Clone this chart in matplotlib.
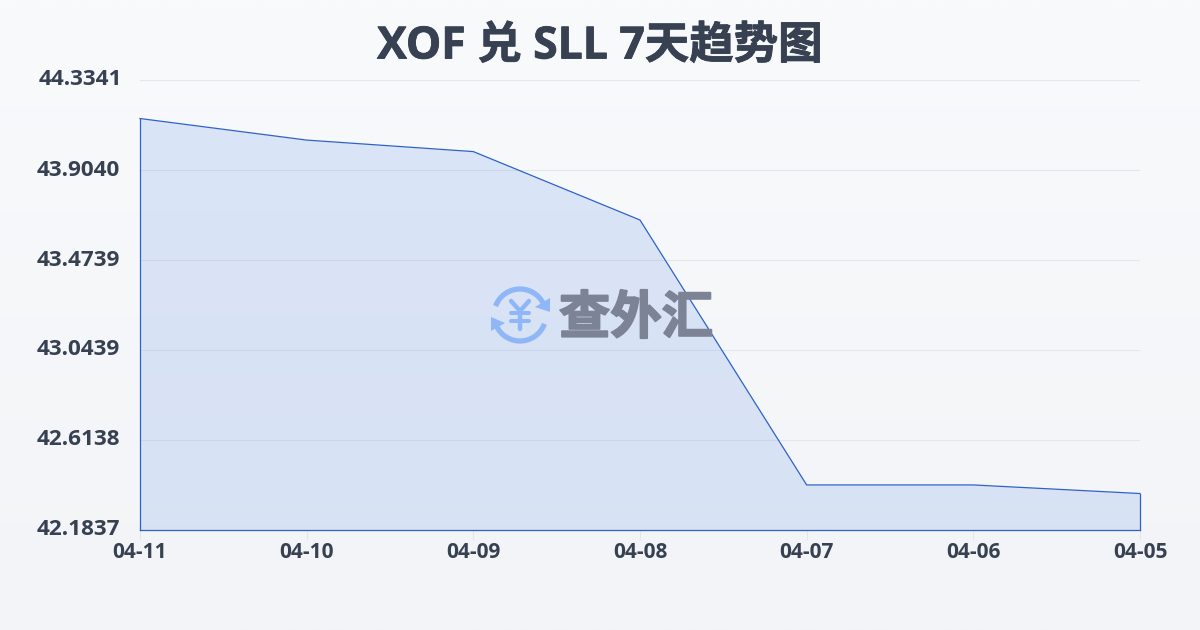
import numpy as np
import matplotlib
matplotlib.use("Agg")
import matplotlib.pyplot as plt
import matplotlib.patheffects as pe
from matplotlib.patches import Arc, Polygon

plt.rcParams['font.family'] = ['Open Sans', 'Noto Sans CJK SC', 'DejaVu Sans']

dates = ['04-11', '04-10', '04-09', '04-08', '04-07', '04-06', '04-05']
rates = [44.150, 44.047, 43.992, 43.665, 42.399, 42.399, 42.358]
y_ticks = [44.3341, 43.9040, 43.4739, 43.0439, 42.6138, 42.1837]
y_labels = ['44.3341', '43.9040', '43.4739', '43.0439', '42.6138', '42.1837']
title = 'XOF 兑 SLL 7天趋势图'
watermark = '查外汇'

W, H = 1200, 630
TEXT = '#374151'
BLUE = '#2f62c9'
LOGO = '#8fb6f6'

fig = plt.figure(figsize=(W / 100, H / 100), dpi=100)

# background gradient
bg = fig.add_axes([0, 0, 1, 1], zorder=0)
bg.axis('off')
grad = np.linspace(0, 1, 256)[:, None, None]
top = np.array([0xf8, 0xfa, 0xfc]) / 255
bottom = np.array([0xf2, 0xf4, 0xf7]) / 255
bg.imshow(top + (bottom - top) * grad, aspect='auto', extent=[0, 1, 0, 1])

# main chart
ax = fig.add_axes([140 / W, 1 - 530 / H, 1000 / W, 450 / H], zorder=1)
ax.patch.set_alpha(0)
x = np.arange(len(dates))
ax.set_xlim(0, len(dates) - 1)
ax.set_ylim(y_ticks[-1], y_ticks[0])
ax.set_yticks(y_ticks)
ax.grid(axis='y', color='#e3e7ed', lw=0.8, zorder=1)
ax.set_axisbelow(True)
ax.fill_between(x, rates, y_ticks[-1], color='#2f6fe0', alpha=0.14, lw=0, zorder=2)
for xs, ys in [(x, rates),
               ([x[0], x[0]], [y_ticks[-1], rates[0]]),
               ([x[-1], x[-1]], [y_ticks[-1], rates[-1]]),
               ([x[0], x[-1]], [y_ticks[-1], y_ticks[-1]])]:
    ax.plot(xs, ys, color=BLUE, lw=0.9, zorder=5, clip_on=False)
for s in ax.spines.values():
    s.set_visible(False)
ax.set_xticks(x)
ax.set_xticklabels(dates, fontsize=15, fontweight='bold', color=TEXT)
ax.tick_params(axis='x', length=7, width=0.8, color='#e3e7ed', pad=2)
ax.tick_params(axis='y', length=0, labelleft=False)
fig.canvas.draw()
for tick, lab in zip(y_ticks, y_labels):
    is_top = tick == y_ticks[0]
    py = H - ax.transData.transform((0, tick))[1]
    fig.text((122 if is_top else 120) / W, 1 - py / H, lab, ha='right', va='center',
             fontsize=16.2, fontweight='bold', color=TEXT)

fig.text(600 / W, 1 - 47 / H, title, ha='center', va='center',
         fontsize=32, fontweight='bold', color=TEXT,
         path_effects=[pe.withStroke(linewidth=0.6, foreground=TEXT)])

# watermark in pixel coordinates
wm = fig.add_axes([0, 0, 1, 1], zorder=2)
wm.axis('off')
wm.patch.set_alpha(0)
wm.set_xlim(0, W)
wm.set_ylim(H, 0)
cx, cy, r = 520, 315, 26
wm.add_patch(Arc((cx, cy), 2 * r, 2 * r, theta1=20, theta2=165, color=LOGO, lw=3.8))
wm.add_patch(Arc((cx, cy), 2 * r, 2 * r, theta1=200, theta2=345, color=LOGO, lw=3.8))
wm.add_patch(Polygon([[550, 298], [550, 312], [535, 307]], color=LOGO, lw=0))
wm.add_patch(Polygon([[491, 317], [491, 331], [505, 323]], color=LOGO, lw=0))
wm.plot([511, 520, 529], [301, 311, 301], color=LOGO, lw=3.2, solid_capstyle='round')
wm.plot([520, 520], [311, 329], color=LOGO, lw=3.2, solid_capstyle='round')
wm.plot([511, 529], [313, 313], color=LOGO, lw=2.9, solid_capstyle='round')
wm.plot([511, 529], [321, 321], color=LOGO, lw=2.9, solid_capstyle='round')
wm.text(636, 318, watermark, ha='center', va='center', fontsize=37,
        fontweight='bold', color='#7b8395', family=['Noto Sans CJK SC', 'DejaVu Sans'],
        path_effects=[pe.withStroke(linewidth=1.4, foreground='#7b8395')])

fig.savefig('out.png', dpi=100)
